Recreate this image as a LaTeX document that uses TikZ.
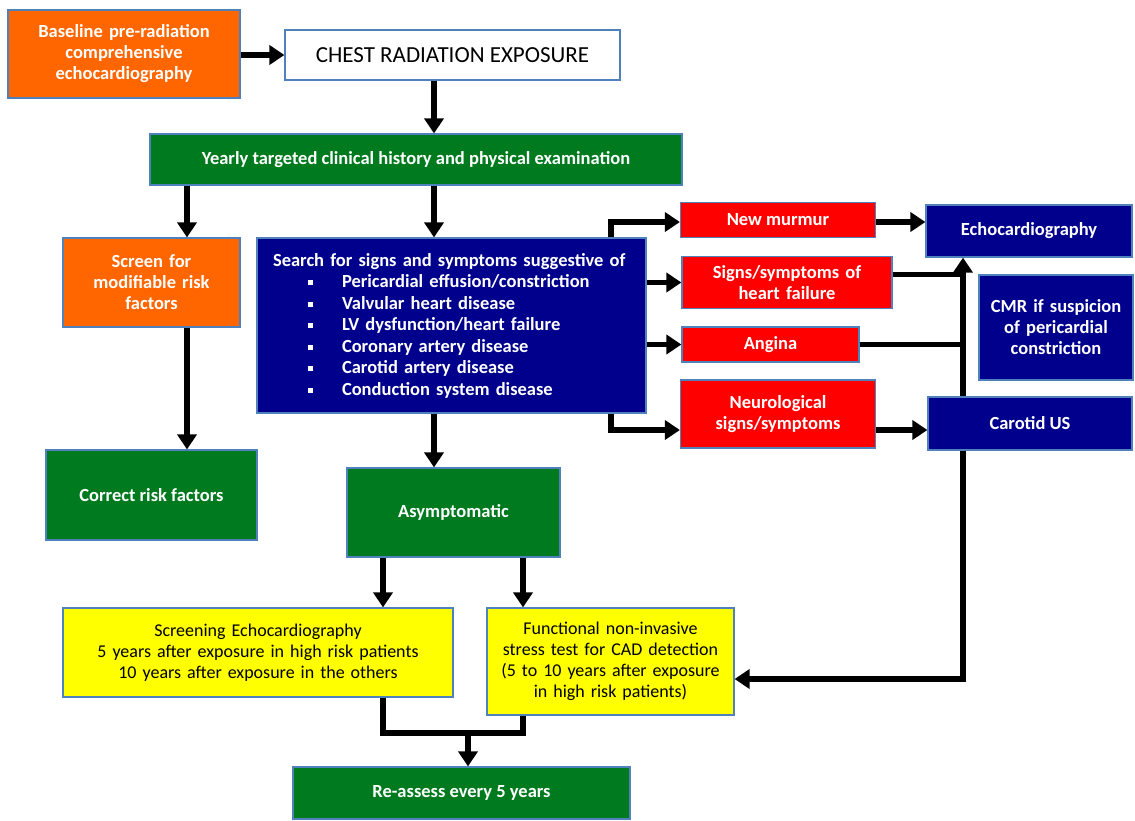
\documentclass[tikz,border=0pt]{standalone}
\usepackage{fontspec}
\setmainfont{Carlito}
\usetikzlibrary{arrows.meta,calc}
\definecolor{borange}{RGB}{255,102,0}
\definecolor{bgreen}{RGB}{0,122,30}
\definecolor{bnavy}{RGB}{0,0,140}
\definecolor{bred}{RGB}{255,0,0}
\definecolor{byellow}{RGB}{255,255,0}
\definecolor{bedge}{RGB}{79,129,189}
\newcommand\sqbul{\rule[2.5pt]{5pt}{5pt}}
\begin{document}
\begin{tikzpicture}[x=1pt,y=-1pt,
  box/.style={draw=bedge, line width=1.2pt, inner sep=3pt, align=center,
    font=\fontsize{18.5}{21}\selectfont\bfseries, text=white},
  dark/.style={box, text=black, font=\fontsize{18}{21}\selectfont},
  arr/.style={line width=5.5pt, -{Triangle[length=15pt,width=19pt]}},
  ln/.style={line width=5.5pt}]
\useasboundingbox (0,0) rectangle (1135,820);
% nodes
\node[box, fill=borange, minimum width=232pt, minimum height=88pt, text width=222pt] (base) at (124,54) {Baseline pre-radiation\\comprehensive\\echocardiography};
\node[dark, fill=white, minimum width=335pt, minimum height=50pt, font=\fontsize{23}{26}\selectfont] (chest) at (452.5,55) {CHEST RADIATION EXPOSURE};
\node[box, fill=bgreen, minimum width=532pt, minimum height=51pt] (year) at (416,159.5) {Yearly targeted clinical history and physical examination};
\node[box, fill=borange, minimum width=177pt, minimum height=89pt, text width=168pt] (screen) at (151.5,282.5) {Screen for\\modifiable risk\\factors};
\node[box, fill=bnavy, minimum width=389pt, minimum height=175pt, text width=357pt, align=left, inner xsep=16pt] (search) at (451.5,325.5) {Search for signs and symptoms suggestive of\\[0.5pt]
\hspace*{35pt}\sqbul\hspace*{29pt}Pericardial effusion/constriction\\[0.5pt]
\hspace*{35pt}\sqbul\hspace*{29pt}Valvular heart disease\\[0.5pt]
\hspace*{35pt}\sqbul\hspace*{29pt}LV dysfunction/heart failure\\[0.5pt]
\hspace*{35pt}\sqbul\hspace*{29pt}Coronary artery disease\\[0.5pt]
\hspace*{35pt}\sqbul\hspace*{29pt}Carotid artery disease\\[0.5pt]
\hspace*{35pt}\sqbul\hspace*{29pt}Conduction system disease};
\node[box, fill=bred, minimum width=195pt, minimum height=35pt] (murmur) at (778,220) {New murmur};
\node[box, fill=bred, minimum width=210pt, minimum height=52pt, text width=202pt] (hf) at (787,282.5) {Signs/symptoms of\\heart failure};
\node[box, fill=bred, minimum width=177pt, minimum height=35pt] (angina) at (770.5,344.5) {Angina};
\node[box, fill=bred, minimum width=195pt, minimum height=68pt, text width=187pt] (neuro) at (778,414) {Neurological\\signs/symptoms};
\node[box, fill=bnavy, minimum width=206pt, minimum height=52pt] (echo) at (1029,231) {Echocardiography};
\node[box, fill=bnavy, minimum width=154pt, minimum height=105pt, text width=148pt] (cmr) at (1056,327.5) {CMR if suspicion\\of pericardial\\constriction};
\node[box, fill=bnavy, minimum width=204pt, minimum height=53pt] (carotid) at (1030,423.5) {Carotid US};
\node[box, fill=bgreen, minimum width=211pt, minimum height=90pt] (correct) at (151.5,495) {Correct risk factors};
\node[box, fill=bgreen, minimum width=213pt, minimum height=89pt] (asym) at (453.5,512.5) {Asymptomatic};
\node[dark, fill=byellow, minimum width=390pt, minimum height=89pt, text width=382pt] (secho) at (258,652.5) {Screening Echocardiography\\5 years after exposure in high risk patients\\10 years after exposure in the others};
\node[dark, fill=byellow, minimum width=247pt, minimum height=107pt, text width=241pt] (func) at (610.5,661.5) {Functional non-invasive\\stress test for CAD detection\\(5 to 10 years after exposure\\in high risk patients)};
\node[box, fill=bgreen, minimum width=337pt, minimum height=52pt] (reas) at (461.5,793) {Re-assess every 5 years};
% helper coordinates
\coordinate (xa) at (434,0);
\coordinate (xl) at (187,0);
\coordinate (xs) at (611,0);
\coordinate (xt) at (963,0);
\coordinate (xe) at (383,0);
\coordinate (xf) at (523,0);
\coordinate (xr) at (468,0);
\coordinate (ym) at (0,222);
\coordinate (yn) at (0,430);
\coordinate (yb) at (0,679);
\coordinate (yj) at (0,733);
% connectors
\draw[arr] (base.east |- chest.west) -- (chest.west);
\draw[arr] (chest.south -| xa) -- (year.north -| xa);
\draw[arr] (year.south -| xl) -- (screen.north -| xl);
\draw[arr] (year.south -| xa) -- (search.north -| xa);
\draw[arr] (screen.south -| xl) -- (correct.north -| xl);
\draw[arr] (search.south -| xa) -- (asym.north -| xa);
\draw[arr] (search.north -| xs) -- (xs |- ym) -- (murmur.west |- ym);
\draw[arr] (search.east |- hf.west) -- (hf.west);
\draw[arr] (search.east |- angina.west) -- (angina.west);
\draw[arr] (search.south -| xs) -- (xs |- yn) -- (neuro.west |- yn);
\draw[arr] (murmur.east |- ym) -- (echo.west |- ym);
\draw[arr] (neuro.east |- yn) -- (carotid.west |- yn);
\draw[arr] (carotid.north -| xt) -- (echo.south -| xt);
\draw[ln] ([yshift=8pt]hf.east) -- ([yshift=8pt]hf.east -| xt);
\draw[ln] (angina.east) -- (angina.east -| xt);
\draw[arr] (carotid.south -| xt) -- (xt |- yb) -- (func.east |- yb);
\draw[arr] (asym.south -| xe) -- (secho.north -| xe);
\draw[arr] (asym.south -| xf) -- (func.north -| xf);
\draw[ln] (secho.south -| xe) -- (xe |- yj) -- (xf |- yj) -- (func.south -| xf);
\draw[arr] (xr |- yj) -- (reas.north -| xr);
\end{tikzpicture}
\end{document}
